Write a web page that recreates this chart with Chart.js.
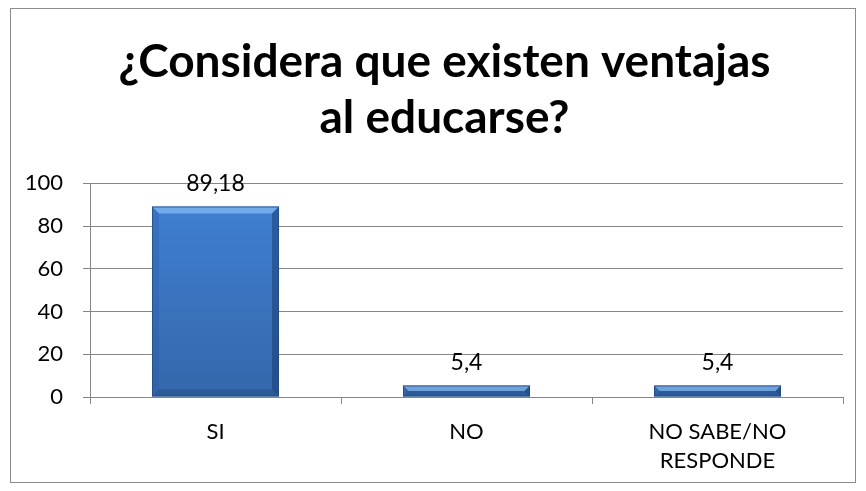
<!DOCTYPE html>
<html>
<head>
<meta charset="utf-8">
<script src="https://cdn.jsdelivr.net/npm/chart.js@4.4.1/dist/chart.umd.min.js"></script>
<style>
  html, body { margin: 0; padding: 0; background: #fff; }
  #wrap { width: 866px; height: 491px; }
</style>
</head>
<body>
<div id="wrap"><canvas id="chart" width="866" height="491"></canvas></div>
<script>
const categories = ['SI', 'NO', ['NO SABE/NO', 'RESPONDE']];
const values = [89.18, 5.4, 5.4];
const yTicks = [0, 20, 40, 60, 80, 100];
const titleLines = ['¿Considera que existen ventajas', 'al educarse?'];

const FONT = 'Lato, "Open Sans", sans-serif';

/* frame round the whole chart, and centre the title on the frame */
const framePlugin = {
  id: 'frame',
  afterLayout(chart) {
    if (chart.titleBlock) chart.titleBlock.left = 46;
  },
  beforeDraw(chart) {
    const c = chart.ctx;
    c.save();
    c.fillStyle = '#fff';
    c.fillRect(0, 0, chart.width, chart.height);
    c.strokeStyle = '#8c8c8c';
    c.lineWidth = 1;
    c.strokeRect(10.5, 8.5, 845, 474);
    c.restore();
  }
};

/* bevelled bars + value labels */
const barPlugin = {
  id: 'bevelBars',
  afterDatasetsDraw(chart) {
    const c = chart.ctx;
    const meta = chart.getDatasetMeta(0);
    meta.data.forEach((bar, i) => {
      const { x, y, base, width } = bar.getProps(['x', 'y', 'base', 'width'], true);
      const l = x - width / 2, r = x + width / 2, t = y, b = base;
      const bev = Math.min(7, (b - t) / 2);
      c.save();
      // top bevel (light)
      c.fillStyle = 'rgba(150,200,250,0.6)';
      c.beginPath();
      c.moveTo(l, t); c.lineTo(r, t); c.lineTo(r - bev, t + bev); c.lineTo(l + bev, t + bev);
      c.closePath(); c.fill();
      // bottom bevel
      c.fillStyle = 'rgba(20,50,95,0.25)';
      c.beginPath();
      c.moveTo(l, b); c.lineTo(r, b); c.lineTo(r - bev, b - bev); c.lineTo(l + bev, b - bev);
      c.closePath(); c.fill();
      // left bevel
      c.fillStyle = 'rgba(40,90,160,0.3)';
      c.beginPath();
      c.moveTo(l, t); c.lineTo(l + bev, t + bev); c.lineTo(l + bev, b - bev); c.lineTo(l, b);
      c.closePath(); c.fill();
      // right bevel
      c.fillStyle = 'rgba(20,50,100,0.45)';
      c.beginPath();
      c.moveTo(r, t); c.lineTo(r - bev, t + bev); c.lineTo(r - bev, b - bev); c.lineTo(r, b);
      c.closePath(); c.fill();
      c.strokeStyle = 'rgba(35,75,130,0.8)';
      c.lineWidth = 1;
      c.strokeRect(l + 0.5, t + 0.5, width - 1, b - t - 1);
      // value label
      c.fillStyle = '#000';
      c.font = '23px ' + FONT;
      c.textAlign = 'center';
      c.textBaseline = 'middle';
      c.fillText(String(values[i]).replace('.', ','), x, t - 23);
      c.restore();
    });
  }
};

const ctx = document.getElementById('chart').getContext('2d');
const grad = ctx.createLinearGradient(0, 180, 0, 400);
grad.addColorStop(0, '#4083d6');
grad.addColorStop(1, '#3466aa');

new Chart(ctx, {
  type: 'bar',
  data: {
    labels: categories,
    datasets: [{
      data: values,
      backgroundColor: grad,
      borderWidth: 0,
      categoryPercentage: 1,
      barPercentage: 0.506,
    }]
  },
  options: {
    responsive: false,
    animation: false,
    layout: { padding: { top: 0, right: 23, bottom: 14, left: 0 } },
    plugins: {
      legend: { display: false },
      tooltip: { enabled: false },
      title: {
        display: true,
        text: titleLines,
        color: '#000',
        font: { family: FONT, size: 46, weight: 'bold', lineHeight: 1.2 },
        padding: { top: 35, bottom: 38 },
      }
    },
    scales: {
      x: {
        grid: { display: true, drawOnChartArea: false, color: '#868686', tickLength: 7, offset: true },
        border: { color: '#868686' },
        ticks: { color: '#000', font: { family: FONT, size: 22, lineHeight: 1.3 }, padding: 14, maxRotation: 0 },
        afterFit(s) { s.height = 80; }
      },
      y: {
        min: 0, max: 100,
        afterBuildTicks(s) { s.ticks = yTicks.map(v => ({ value: v })); },
        grid: { color: '#868686', tickLength: 7 },
        border: { color: '#868686' },
        ticks: { color: '#000', font: { family: FONT, size: 22 }, padding: 20 },
        afterFit(s) { s.width = 90; }
      }
    }
  },
  plugins: [framePlugin, barPlugin]
});
</script>
</body>
</html>
